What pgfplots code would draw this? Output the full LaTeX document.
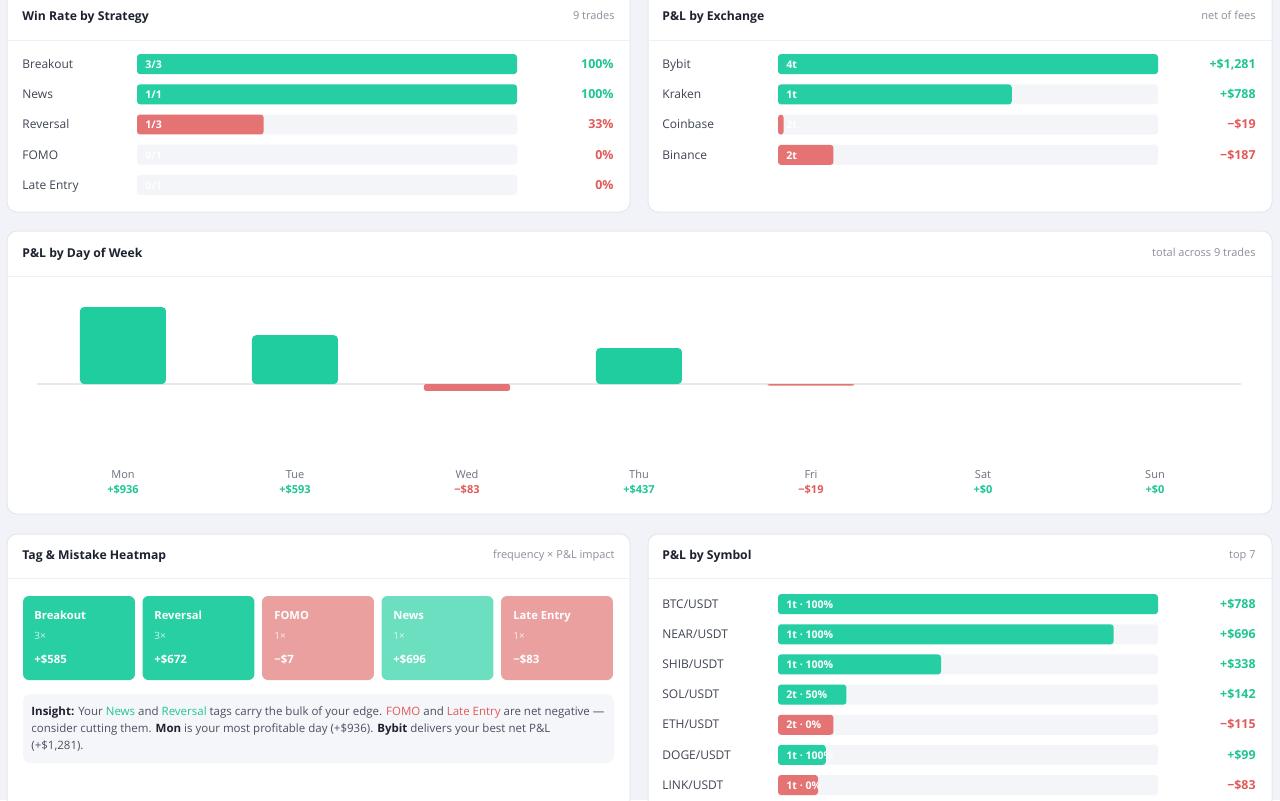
\documentclass[border=0pt]{standalone}
\usepackage{pgfplots}
\pgfplotsset{compat=1.18}
\usepackage{fontspec}
\setmainfont{Open Sans}
\definecolor{bgc}{HTML}{F1F3F8}
\definecolor{cardline}{HTML}{E4E7EE}
\definecolor{sepc}{HTML}{EEF0F4}
\definecolor{titlec}{HTML}{1E2230}
\definecolor{lblc}{HTML}{3F4553}
\definecolor{subc}{HTML}{8B909C}
\definecolor{grn}{HTML}{26CFA3}
\definecolor{grn2}{HTML}{20CD9F}
\definecolor{redb}{HTML}{E57373}
\definecolor{grnt}{HTML}{1FC594}
\definecolor{redt}{HTML}{E25B5B}
\definecolor{trk}{HTML}{F4F5F9}
\definecolor{hgrn}{HTML}{27CFA2}
\definecolor{hlgrn}{HTML}{6DDFC1}
\definecolor{hred}{HTML}{EBA0A0}
\definecolor{daylbl}{HTML}{6B7080}
\definecolor{zline}{HTML}{E6E8EC}
\definecolor{insbg}{HTML}{F5F6FA}
\definecolor{inst}{HTML}{4A5060}
\tikzset{
 ttl/.style={inner sep=0pt, text height=4.36pt, text depth=0pt, anchor=west, font=\fontsize{6.1}{7.5}\selectfont\bfseries, text=titlec},
 sub/.style={inner sep=0pt, text height=3.93pt, text depth=0pt, anchor=east, font=\fontsize{5.5}{6.6}\selectfont, text=subc},
 lbl/.style={inner sep=0pt, text height=4.28pt, text depth=0pt, anchor=west, font=\fontsize{6}{7.2}\selectfont, text=lblc},
 valg/.style={inner sep=0pt, text height=4.43pt, text depth=0pt, anchor=east, font=\fontsize{6.2}{7.4}\selectfont\bfseries, text=grnt},
 valr/.style={valg, text=redt},
 intext/.style={inner sep=0pt, text height=3.78pt, text depth=0pt, anchor=west, font=\fontsize{5.3}{6.4}\selectfont\bfseries, text=white},
 tname/.style={inner sep=0pt, text height=4.0pt, text depth=0pt, anchor=west, font=\fontsize{5.6}{6.7}\selectfont\bfseries, text=white},
 tcnt/.style={inner sep=0pt, text height=3.57pt, text depth=0pt, anchor=west, font=\fontsize{5}{6}\selectfont, text=white, text opacity=0.8},
 tval/.style={inner sep=0pt, text height=4.07pt, text depth=0pt, anchor=west, font=\fontsize{5.7}{6.8}\selectfont\bfseries, text=white},
 ins/.style={inner sep=0pt, text height=4.1pt, text depth=0pt, anchor=west, font=\fontsize{5.75}{6.9}\selectfont, text=inst},
 barpl/.style={draw=none, rounded corners=1.5pt},
}
\begin{document}
\begin{tikzpicture}[x=0.5pt,y=-0.5pt]
\useasboundingbox (0,0) rectangle (1280,800);
\clip (0,0) rectangle (1280,800);
\fill[bgc] (0,0) rectangle (1280,800);
\foreach \a/\b/\c/\d in {7/-10/630/212, 648/-10/1272/212, 7/231/1272/514, 7/534/630/810, 648/534/1272/810}
  \filldraw[fill=white, draw=cardline, line width=0.5pt, rounded corners=5pt] (\a,\b) rectangle (\c,\d);
\draw[sepc, line width=0.5pt] (7,40)--(630,40) (648,40)--(1272,40) (7,276)--(1272,276) (7,578)--(630,578) (648,578)--(1272,578);

% ---------- Win rate by strategy ----------
\node[ttl] at (22,16) {Win Rate by Strategy};
\node[sub] at (615,16) {9 trades};
\foreach \t/\y in {Breakout/64, News/94, Reversal/124, FOMO/155, Late Entry/185}
  \node[lbl] at (22,\y) {\t};
\begin{axis}[at={(68.5pt,-100pt)}, anchor=south west, scale only axis, width=190pt, height=75.5pt,
  xmin=0, xmax=100, ymin=-0.5, ymax=4.5, hide axis, clip=false]
\addplot[xbar, bar width=0.66, fill=trk, barpl] coordinates {(100,4) (100,3) (100,2) (100,1) (100,0)};
\addplot[xbar, bar width=0.66, fill=grn, barpl] coordinates {(100,4) (100,3)};
\addplot[xbar, bar width=0.66, fill=redb, barpl] coordinates {(33.33,2)};
\end{axis}
\node[intext] at (145,65) {3/3};
\node[intext] at (145,95) {1/1};
\node[intext] at (145,125) {1/3};
\node[intext] at (145,156) {0/1};
\node[intext] at (145,186) {0/1};
\node[valg] at (614,64) {100\%};
\node[valg] at (614,94) {100\%};
\node[valr] at (614,124) {33\%};
\node[valr] at (614,155) {0\%};
\node[valr] at (614,185) {0\%};

% ---------- P&L by exchange ----------
\node[ttl] at (662,16) {P\&L by Exchange};
\node[sub] at (1256,16) {net of fees};
\foreach \t/\y in {Bybit/64, Kraken/94, Coinbase/124, Binance/155}
  \node[lbl] at (662,\y) {\t};
\begin{axis}[at={(389pt,-85pt)}, anchor=south west, scale only axis, width=190pt, height=60.5pt,
  xmin=0, xmax=1281, ymin=-0.5, ymax=3.5, hide axis, clip=false]
\addplot[xbar, bar width=0.66, fill=trk, barpl] coordinates {(1281,3) (1281,2) (1281,1) (1281,0)};
\addplot[xbar, bar width=0.66, fill=grn, barpl] coordinates {(1281,3) (788,2)};
\addplot[xbar, bar width=0.66, fill=redb, barpl] coordinates {(19,1) (187,0)};
\end{axis}
\node[intext] at (786,65) {4t};
\node[intext] at (786,95) {1t};
\node[intext] at (786,125) {2t};
\node[intext] at (786,156) {2t};
\node[valg] at (1256,64) {+\$1,281};
\node[valg] at (1256,94) {+\$788};
\node[valr] at (1256,124) {−\$19};
\node[valr] at (1256,155) {−\$187};

% ---------- P&L by day of week ----------
\node[ttl] at (22,253) {P\&L by Day of Week};
\node[sub] at (1256,253) {total across 9 trades};
\begin{axis}[at={(18.5pt,-230pt)}, anchor=south west, scale only axis, width=602pt, height=85pt,
  xmin=-0.5, xmax=6.5, ymin=-924, ymax=1143,
  axis line style={draw=none}, major tick length=0pt, ytick=\empty,
  xtick={0,1,2,3,4,5,6},
  xticklabels={{Mon\\\textcolor{grnt}{\bfseries +\$936}},{Tue\\\textcolor{grnt}{\bfseries +\$593}},{Wed\\\textcolor{redt}{\bfseries −\$83}},{Thu\\\textcolor{grnt}{\bfseries +\$437}},{Fri\\\textcolor{redt}{\bfseries −\$19}},{Sat\\\textcolor{grnt}{\bfseries +\$0}},{Sun\\\textcolor{grnt}{\bfseries +\$0}}},
  xticklabel style={align=center, font=\fontsize{5.5}{7.5}\selectfont, text=daylbl, inner sep=0pt, yshift=-5.0pt},
  extra y ticks={0}, extra y tick labels={},
  extra y tick style={grid=major, major grid style={draw=zline, line width=1pt}},
  clip=false]
\addplot[ybar, bar width=0.5, fill=grn2, draw=none, rounded corners=2pt] coordinates {(0,936) (1,593) (3,437)};
\addplot[ybar, bar width=0.5, fill=redb, draw=none, rounded corners=1pt] coordinates {(2,-83) (4,-19)};
\end{axis}

% ---------- Tag & mistake heatmap ----------
\node[ttl] at (22,555) {Tag \& Mistake Heatmap};
\node[sub] at (615,555) {frequency × P\&L impact};
\begin{axis}[at={(9.625pt,-340pt)}, anchor=south west, scale only axis, width=298.75pt, height=42pt,
  xmin=-0.5, xmax=4.5, ymin=0, ymax=1, hide axis]
\addplot[ybar, bar width=0.937, fill=hgrn, draw=none, rounded corners=3pt] coordinates {(0,1) (1,1)};
\addplot[ybar, bar width=0.937, fill=hlgrn, draw=none, rounded corners=3pt] coordinates {(3,1)};
\addplot[ybar, bar width=0.937, fill=hred, draw=none, rounded corners=3pt] coordinates {(2,1) (4,1)};
\end{axis}
\foreach \x/\n/\c/\v in {34/Breakout/3/+\$585, 154/Reversal/3/+\$672, 274/FOMO/1/−\$7, 393/News/1/+\$696, 513/Late Entry/1/−\$83} {
  \node[tname] at (\x,615) {\n};
  \node[tcnt] at (\x,636) {\c×};
  \node[tval] at (\x,659) {\v};
}
\fill[insbg, rounded corners=4pt] (23,694) rectangle (614,763);
\node[ins] at (31,711) {{\bfseries\color{titlec}Insight:} Your \textcolor{grnt}{News} and \textcolor{grnt}{Reversal} tags carry the bulk of your edge. \textcolor{redt}{FOMO} and \textcolor{redt}{Late Entry} are net negative —};
\node[ins] at (31,728) {consider cutting them. {\bfseries\color{titlec}Mon} is your most profitable day (+\$936). {\bfseries\color{titlec}Bybit} delivers your best net P\&L};
\node[ins] at (31,745) {(+\$1,281).};

% ---------- P&L by symbol ----------
\node[ttl] at (662,555) {P\&L by Symbol};
\node[sub] at (1256,555) {top 7};
\foreach \t/\y in {BTC/604, NEAR/634, SHIB/664, SOL/694, ETH/724, DOGE/755, LINK/785}
  \node[lbl] at (662,\y) {\t/USDT};
\begin{axis}[at={(389pt,-400.05pt)}, anchor=south west, scale only axis, width=190pt, height=105.5pt,
  xmin=0, xmax=788, ymin=-0.5, ymax=6.5, hide axis, clip=false]
\addplot[xbar, bar width=0.663, fill=trk, barpl] coordinates {(788,6) (788,5) (788,4) (788,3) (788,2) (788,1) (788,0)};
\addplot[xbar, bar width=0.663, fill=grn, barpl] coordinates {(788,6) (696,5) (338,4) (142,3) (99,1)};
\addplot[xbar, bar width=0.663, fill=redb, barpl] coordinates {(115,2) (83,0)};
\end{axis}
\foreach \y/\t in {605/1t · 100\%, 635/1t · 100\%, 665/1t · 100\%, 695/2t · 50\%, 725/2t · 0\%, 756/1t · 100\%, 786/1t · 0\%}
  \node[intext] at (786,\y) {\t};
\node[valg] at (1256,604) {+\$788};
\node[valg] at (1256,634) {+\$696};
\node[valg] at (1256,664) {+\$338};
\node[valg] at (1256,694) {+\$142};
\node[valr] at (1256,724) {−\$115};
\node[valg] at (1256,755) {+\$99};
\node[valr] at (1256,785) {−\$83};
\end{tikzpicture}
\end{document}
